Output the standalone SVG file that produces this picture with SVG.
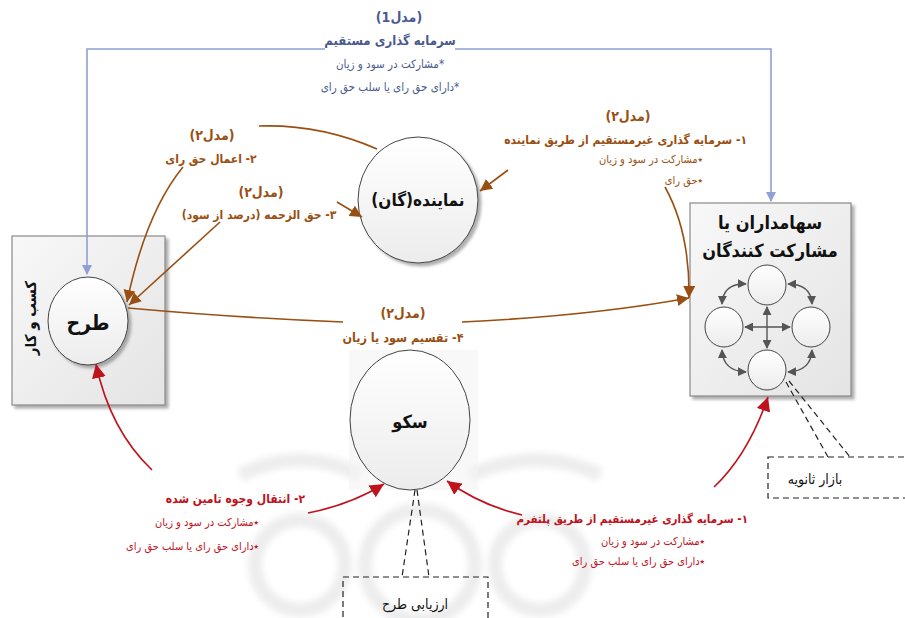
<svg xmlns="http://www.w3.org/2000/svg" width="905" height="618" viewBox="0 0 905 618">
<defs>
<style>
text{font-family:"DejaVu Sans Condensed","DejaVu Sans","Noto Sans",sans-serif;font-stretch:condensed;direction:rtl}
.b{font-weight:bold}
.blue{fill:#4a5a8e}
.brown{fill:#9a4f12}
.red{fill:#c0121c}
.node{stroke:#444;stroke-width:1;fill:url(#cg)}
.box{stroke:#8a8a8a;stroke-width:1.2;fill:url(#bg)}
.lb{stroke:#8fa0d4;stroke-width:1.6;fill:none}
.lr{stroke:#9a4f12;stroke-width:1.6;fill:none}
.ld{stroke:#c0121c;stroke-width:1.6;fill:none}
.lg{stroke:#555;stroke-width:1.4;fill:none}
.dash{stroke:#222;stroke-width:1.2;fill:none;stroke-dasharray:6 4}
</style>
<linearGradient id="cg" x1="0" y1="0" x2="0" y2="1"><stop offset="0" stop-color="#ffffff"/><stop offset="1" stop-color="#ececec"/></linearGradient>
<linearGradient id="bg" x1="0" y1="0" x2="1" y2="1"><stop offset="0" stop-color="#f8f8f8"/><stop offset="1" stop-color="#e4e4e4"/></linearGradient>
<filter id="sh" x="-10%" y="-10%" width="130%" height="130%"><feDropShadow dx="3" dy="3" stdDeviation="1.5" flood-color="#777" flood-opacity="0.6"/></filter>
<filter id="blur"><feGaussianBlur stdDeviation="3"/></filter>
<marker id="ab" markerWidth="10" markerHeight="10" refX="9" refY="5" orient="auto" markerUnits="userSpaceOnUse" viewBox="0 0 10 10"><path d="M0,0 L10,5 L0,10 z" fill="#8fa0d4"/></marker>
<marker id="ar" markerWidth="12" markerHeight="12" refX="10" refY="5" orient="auto" markerUnits="userSpaceOnUse" viewBox="0 0 10 10"><path d="M0,0 L10,5 L0,10 z" fill="#9a4f12"/></marker>
<marker id="ad" markerWidth="14" markerHeight="14" refX="10" refY="5" orient="auto" markerUnits="userSpaceOnUse" viewBox="0 0 10 10"><path d="M0,0 L10,5 L0,10 z" fill="#c0121c"/></marker>
<marker id="ag" markerWidth="9" markerHeight="9" refX="9" refY="5" orient="auto-start-reverse" markerUnits="userSpaceOnUse" viewBox="0 0 10 10"><path d="M0,0 L10,5 L0,10 z" fill="#555"/></marker>
</defs>
<rect width="905" height="618" fill="#ffffff"/>
<g id="watermark" fill="none" stroke="#ededed" stroke-width="14" filter="url(#blur)">
<circle cx="420" cy="565" r="55"/>
<circle cx="540" cy="565" r="45"/>
<circle cx="300" cy="565" r="45"/>
<path d="M240 475 Q300 445 360 475"/>
<path d="M470 475 Q540 445 600 475"/>
</g>
<g id="box-business">
<rect class="box" x="12" y="236" width="153" height="169" filter="url(#sh)"/>
<text class="b" font-size="15" fill="#111" text-anchor="middle" transform="translate(36,318) rotate(-90)">کسب و کار</text>
</g>
<g id="box-shareholders">
<rect class="box" x="690" y="203" width="161" height="193" filter="url(#sh)"/>
<text class="b" font-size="18" fill="#111" text-anchor="middle" x="770" y="229">سهامداران یا</text>
<text class="b" font-size="18" fill="#111" text-anchor="middle" x="770" y="257">مشارکت کنندگان</text>
<ellipse class="node" cx="767" cy="285" rx="19" ry="20"/>
<ellipse class="node" cx="724" cy="327" rx="19" ry="20"/>
<ellipse class="node" cx="811" cy="327" rx="19" ry="20"/>
<ellipse class="node" cx="767" cy="370" rx="19" ry="20"/>
<path class="lg" d="M767 307 L767 348" marker-start="url(#ag)" marker-end="url(#ag)"/>
<path class="lg" d="M745 327 L790 327" marker-start="url(#ag)" marker-end="url(#ag)"/>
<path class="lg" d="M746 284 Q723 283 722 304" marker-start="url(#ag)" marker-end="url(#ag)"/>
<path class="lg" d="M788 284 Q811 284 812 304" marker-start="url(#ag)" marker-end="url(#ag)"/>
<path class="lg" d="M722 350 Q723 371 746 372" marker-start="url(#ag)" marker-end="url(#ag)"/>
<path class="lg" d="M812 350 Q811 371 788 372" marker-start="url(#ag)" marker-end="url(#ag)"/>
</g>
<g id="node-tarh">
<ellipse class="node" cx="88" cy="321" rx="40" ry="44" filter="url(#sh)"/>
<text class="b" font-size="21" fill="#111" text-anchor="middle" x="88" y="330">طرح</text>
</g>
<g id="node-representative">
<ellipse class="node" cx="418" cy="200" rx="60" ry="63" filter="url(#sh)"/>
<text class="b" font-size="17" fill="#111" text-anchor="middle" x="418" y="206">نماینده(گان)</text>
</g>
<g id="node-platform">
<rect x="349" y="350" width="129" height="140" fill="#f4f4f4" opacity="0.6"/>
<ellipse class="node" cx="410" cy="420" rx="60" ry="70"/>
<text class="b" font-size="18" fill="#111" text-anchor="middle" x="410" y="428">سکو</text>
</g>
<g id="box-secondary">
<rect class="dash" x="768" y="457" width="150" height="41"/>
<text font-size="14" fill="#111" text-anchor="middle" x="815" y="484">بازار ثانویه</text>
</g>
<g id="box-evaluation">
<rect class="dash" x="343" y="577" width="145" height="60"/>
<text font-size="14" fill="#111" text-anchor="middle" x="415" y="609">ارزیابی طرح</text>
</g>
<g id="connectors">
<path class="lb" d="M325 49 L87 49 L87 274" marker-end="url(#ab)"/>
<path class="lb" d="M455 49 L771 49 L771 201" marker-end="url(#ab)"/>
<path class="lr" d="M259 126 Q320 124 377 149"/>
<path class="lr" d="M183 167 C160 195 140 240 127 302" marker-end="url(#ar)"/>
<path class="lr" d="M220 222 L129 305" marker-end="url(#ar)"/>
<path class="lr" d="M337 202 L362 217" marker-end="url(#ar)"/>
<path class="lr" d="M508 170 L480 191" marker-end="url(#ar)"/>
<path class="lr" d="M665 187 Q690 232 689 298" marker-end="url(#ar)"/>
<path class="lr" d="M128 308 Q240 318 343 322"/>
<path class="lr" d="M462 322 Q590 316 689 298" marker-end="url(#ar)"/>
<path class="ld" d="M152 470 Q110 430 96 364" marker-end="url(#ad)"/>
<path class="ld" d="M308 513 Q350 505 384 484" marker-end="url(#ad)"/>
<path class="ld" d="M522 515 Q480 505 447 481" marker-end="url(#ad)"/>
<path class="ld" d="M714 487 Q748 455 768 397" marker-end="url(#ad)"/>
<path class="dash" d="M415 490 L402 577 M417 490 L429 577"/>
<path class="dash" d="M786 382 L828 457 M789 381 L850 457"/>
</g>
<g id="labels">
<text class="b blue" font-size="14" text-anchor="middle" x="399" y="22">(مدل1)</text>
<text class="b blue" font-size="13" text-anchor="middle" x="390" y="45">سرمایه گذاری مستقیم</text>
<text class="blue" font-size="11.5" text-anchor="middle" x="390" y="68">*مشارکت در سود و زیان</text>
<text class="blue" font-size="11.5" text-anchor="middle" x="390" y="91">*دارای حق رای یا سلب حق رای</text>

<text class="b brown" font-size="14" text-anchor="middle" x="628" y="121">(مدل۲)</text>
<text class="b brown" font-size="12" text-anchor="start" x="747" y="144">۱- سرمایه گذاری غیرمستقیم از طریق نماینده</text>
<text class="brown" font-size="11" text-anchor="start" x="703" y="163">٭مشارکت در سود و زیان</text>
<text class="brown" font-size="11" text-anchor="start" x="703" y="184">٭حق رای</text>

<text class="b brown" font-size="14" text-anchor="middle" x="212" y="140">(مدل۲)</text>
<text class="b brown" font-size="12" text-anchor="middle" x="211" y="163">۲- اعمال حق رای</text>

<text class="b brown" font-size="14" text-anchor="middle" x="261" y="197">(مدل۲)</text>
<text class="b brown" font-size="12" text-anchor="middle" x="259" y="219">۳- حق الزحمه (درصد از سود)</text>

<text class="b brown" font-size="14" text-anchor="middle" x="403" y="318">(مدل۲)</text>
<text class="b brown" font-size="12.5" text-anchor="middle" x="403" y="342">۴- تقسیم سود یا زیان</text>

<text class="b red" font-size="12" text-anchor="start" x="305" y="503">۲- انتقال وجوه تامین شده</text>
<text class="red" font-size="11" text-anchor="start" x="259" y="526">٭مشارکت در سود و زیان</text>
<text class="red" font-size="11" text-anchor="start" x="259" y="550">٭دارای حق رای یا سلب حق رای</text>

<text class="b red" font-size="11.5" text-anchor="start" x="748" y="523">۱- سرمایه گذاری غیرمستقیم از طریق پلتفرم</text>
<text class="red" font-size="11" text-anchor="start" x="705" y="545">٭مشارکت در سود و زیان</text>
<text class="red" font-size="11" text-anchor="start" x="705" y="565">٭دارای حق رای یا سلب حق رای</text>
</g>
</svg>
